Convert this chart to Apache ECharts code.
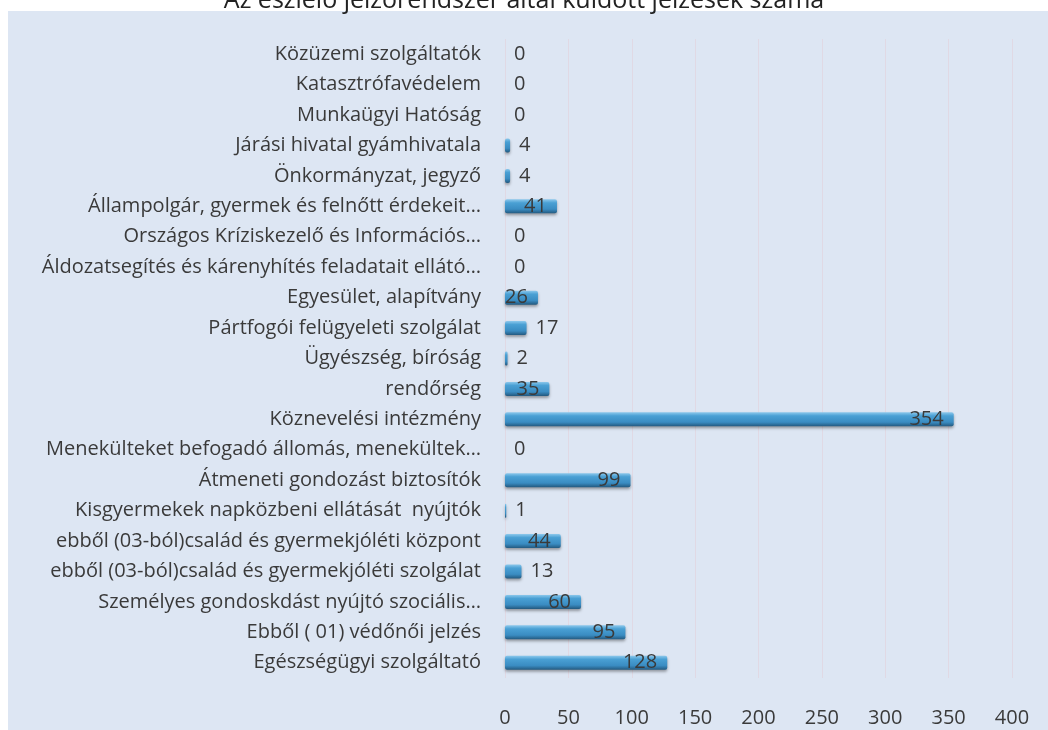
<!DOCTYPE html>
<html>
<head>
<meta charset="utf-8">
<script src="https://cdn.jsdelivr.net/npm/echarts@6/dist/echarts.min.js"></script>
<style>
html,body{margin:0;padding:0;background:#ffffff;}
#chart{width:1048px;height:730px;}
</style>
</head>
<body>
<div id="chart"></div>
<script>
const chartTitle = 'Az észlelő jelzőrendszer által küldött jelzések száma';
const categories = [
  'Közüzemi szolgáltatók',
  'Katasztrófavédelem',
  'Munkaügyi Hatóság',
  'Járási hivatal gyámhivatala',
  'Önkormányzat, jegyző',
  'Állampolgár, gyermek és felnőtt érdekeit…',
  'Országos Kríziskezelő és Információs…',
  'Áldozatsegítés és kárenyhítés feladatait ellátó…',
  'Egyesület, alapítvány',
  'Pártfogói felügyeleti szolgálat',
  'Ügyészség, bíróság',
  'rendőrség',
  'Köznevelési intézmény',
  'Menekülteket befogadó állomás, menekültek…',
  'Átmeneti gondozást biztosítók',
  'Kisgyermekek napközbeni ellátását  nyújtók',
  'ebből (03-ból)család és gyermekjóléti központ',
  'ebből (03-ból)család és gyermekjóléti szolgálat',
  'Személyes gondoskdást nyújtó szociális…',
  'Ebből ( 01) védőnői jelzés',
  'Egészségügyi szolgáltató'
];
const values = [0, 0, 0, 4, 4, 41, 0, 0, 26, 17, 2, 35, 354, 0, 99, 1, 44, 13, 60, 95, 128];
const xTicks = [0, 50, 100, 150, 200, 250, 300, 350, 400];

const chart = echarts.init(document.getElementById('chart'), null, {renderer: 'canvas'});
const labelFont = {fontFamily: 'Open Sans', fontSize: 20, color: '#3a3a3a'};

const barData = values.map(v => ({
  value: v,
  label: v < 20
    ? {position: 'right', distance: 9}
    : {position: 'insideRight', distance: 10}
}));

chart.setOption({
  animation: false,
  backgroundColor: 'transparent',
  graphic: [{
    type: 'rect', z: -100, silent: true,
    shape: {x: 8, y: 11, width: 1040, height: 719},
    style: {fill: '#dde6f3'}
  }],
  title: {
    text: chartTitle, left: 'center', top: -17,
    textStyle: {fontFamily: 'Open Sans', fontSize: 25, fontWeight: 'normal', color: '#222'}
  },
  grid: {left: 505, right: 36, top: 39, bottom: 52, containLabel: false},
  xAxis: {
    type: 'value', min: xTicks[0], max: xTicks[xTicks.length - 1], interval: 50,
    axisLine: {show: false}, axisTick: {show: false},
    axisLabel: Object.assign({margin: 30}, labelFont),
    splitLine: {show: true, lineStyle: {color: 'rgba(225,205,215,0.55)', width: 1}}
  },
  yAxis: {
    type: 'category', data: categories, inverse: true,
    axisLine: {show: false}, axisTick: {show: false},
    axisLabel: Object.assign({margin: 24}, labelFont)
  },
  series: [{
    type: 'bar', data: barData, barWidth: 14,
    itemStyle: {
      color: new echarts.graphic.LinearGradient(0, 0, 0, 1, [
        {offset: 0, color: '#8cc8ec'},
        {offset: 0.25, color: '#4aa0d4'},
        {offset: 0.7, color: '#3a8cc2'},
        {offset: 1, color: '#23597f'}
      ]),
      borderRadius: 2,
      shadowColor: 'rgba(0,0,0,0.35)', shadowBlur: 3, shadowOffsetY: 2
    },
    label: Object.assign({show: true}, labelFont)
  }]
});
</script>
</body>
</html>
